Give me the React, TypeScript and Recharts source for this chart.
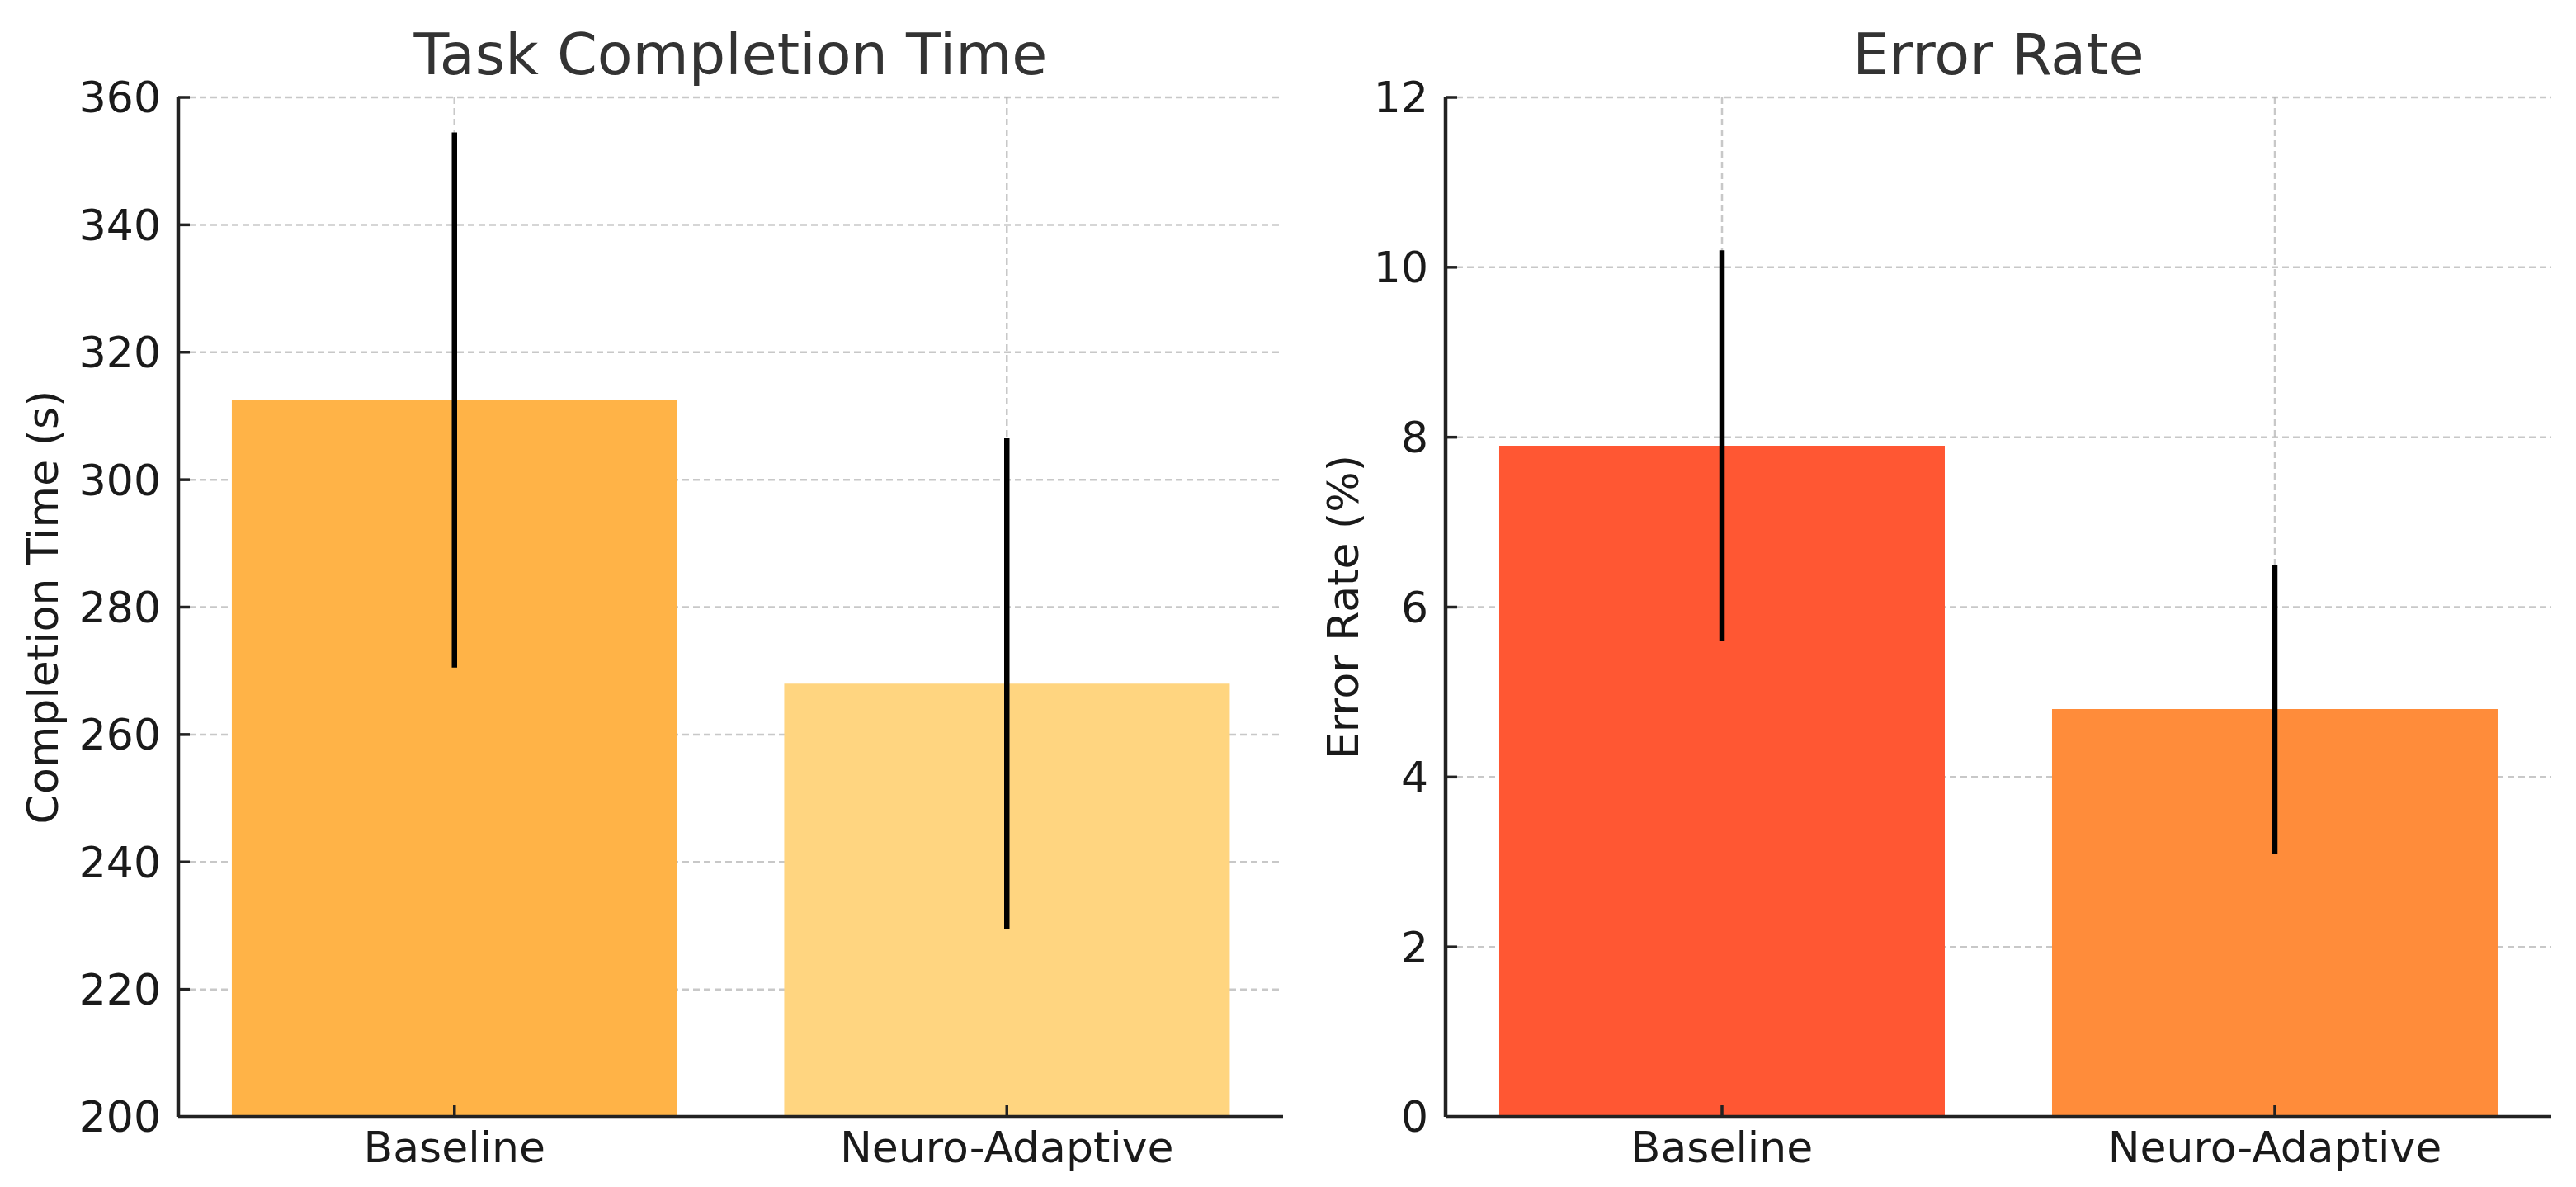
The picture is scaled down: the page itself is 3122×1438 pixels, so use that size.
import React from 'react';
import { ComposedChart, Bar, XAxis, YAxis, CartesianGrid, ErrorBar, Scatter, Cell } from 'recharts';

const categories = ['Baseline', 'Neuro-Adaptive'];
const completionMeans = [312.5, 268];
const completionErrors = [42, 38.5];
const errorRateMeans = [7.9, 4.8];
const errorRateErrors = [2.3, 1.7];
const completionTicks = [200, 220, 240, 260, 280, 300, 320, 340, 360];
const errorRateTicks = [0, 2, 4, 6, 8, 10, 12];
const completionColors = ['#FFB347', '#FFD580'];
const errorRateColors = ['#FF5733', '#FF8C3A'];

const FONT = '"DejaVu Sans", sans-serif';
const AXIS_COLOR = '#222222';

type PanelProps = {
  title: string;
  yLabel: string;
  means: number[];
  errors: number[];
  colors: string[];
  ticks: number[];
  left: number;
  yAxisWidth: number;
  rightMargin: number;
  labelBaseline: number;
};

function Panel(p: PanelProps) {
  const data = categories.map((name, i) => ({ name, value: p.means[i], err: p.errors[i] }));
  const W = 1561;
  const H = 1438;
  const top = 118;
  const xAxisH = 85;
  const plotLeft = p.yAxisWidth;
  const plotRight = W - p.rightMargin;
  return (
    <div style={{ position: 'absolute', left: p.left, top: 0, width: W, height: H }}>
      <ComposedChart
        width={W}
        height={H}
        data={data}
        margin={{ top, right: p.rightMargin, bottom: 0, left: 0 }}
        barCategoryGap="9.7%"
      >
        <XAxis
          dataKey="name"
          height={xAxisH}
          tickSize={-14}
          tickMargin={32}
          axisLine={{ stroke: AXIS_COLOR, strokeWidth: 4.5 }}
          tickLine={{ stroke: AXIS_COLOR, strokeWidth: 3.5 }}
          tick={{ fill: '#1a1a1a', fontSize: 52, fontFamily: FONT }}
          interval={0}
        />
        <YAxis
          type="number"
          width={p.yAxisWidth}
          domain={[p.ticks[0], p.ticks[p.ticks.length - 1]]}
          ticks={p.ticks}
          interval={0}
          allowDataOverflow
          tickSize={-14}
          tickMargin={35}
          axisLine={{ stroke: AXIS_COLOR, strokeWidth: 4.5 }}
          tickLine={{ stroke: AXIS_COLOR, strokeWidth: 3.5 }}
          tick={{ fill: '#1a1a1a', fontSize: 52, fontFamily: FONT }}
          label={{
            content: (lp: any) => {
              const vb = lp.viewBox || { x: 0, y: top, width: p.yAxisWidth, height: H - top - xAxisH };
              const bx = vb.x + p.labelBaseline;
              const cy = vb.y + vb.height / 2;
              return (
                <text
                  x={bx}
                  y={cy}
                  transform={`rotate(-90 ${bx} ${cy})`}
                  textAnchor="middle"
                  fontSize={52}
                  fontFamily={FONT}
                  fill="#1a1a1a"
                >
                  {p.yLabel}
                </text>
              );
            },
          }}
        />
        <Bar dataKey="value" isAnimationActive={false}>
          {data.map((d, i) => (
            <Cell key={d.name} fill={p.colors[i]} />
          ))}
        </Bar>
        <CartesianGrid
          syncWithTicks
          stroke="#b0b0b0"
          strokeOpacity={0.7}
          strokeWidth={2.5}
          strokeDasharray="8 5"
        />
        <Scatter dataKey="value" isAnimationActive={false} shape={() => null}>
          <ErrorBar dataKey="err" direction="y" width={0} stroke="#000000" strokeWidth={6.5} isAnimationActive={false} />
        </Scatter>
      </ComposedChart>
      <svg
        width={W}
        height={H}
        style={{ position: 'absolute', left: 0, top: 0, pointerEvents: 'none' }}
      >
        <text
          x={(plotLeft + plotRight) / 2}
          y={90}
          textAnchor="middle"
          fontSize={70}
          fontFamily={FONT}
          fill="#333333"
        >
          {p.title}
        </text>
      </svg>
    </div>
  );
}

export default function App() {
  return (
    <div style={{ position: 'absolute', left: 0, top: 0, width: 3122, height: 1438, background: '#ffffff' }}>
      <Panel
        title="Task Completion Time"
        yLabel="Completion Time (s)"
        means={completionMeans}
        errors={completionErrors}
        colors={completionColors}
        ticks={completionTicks}
        left={0}
        yAxisWidth={216}
        rightMargin={6}
        labelBaseline={70}
      />
      <Panel
        title="Error Rate"
        yLabel="Error Rate (%)"
        means={errorRateMeans}
        errors={errorRateErrors}
        colors={errorRateColors}
        ticks={errorRateTicks}
        left={1561}
        yAxisWidth={191}
        rightMargin={30}
        labelBaseline={85}
      />
    </div>
  );
}
